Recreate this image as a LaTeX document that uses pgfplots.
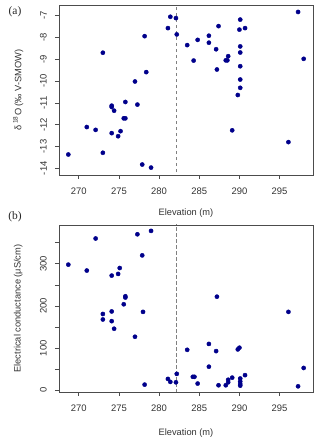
\documentclass[border=0pt]{standalone}
\usepackage{pgfplots}
\pgfplotsset{compat=1.18}
\usepackage{fontspec}
\setmainfont{Liberation Sans}
\newfontfamily\serifpanel{Liberation Serif}
\definecolor{pt}{HTML}{00008B}
\definecolor{ax}{gray}{0.3}

\pgfplotsset{rstyle/.style={
  scale only axis, width=254bp,
  axis line style={ax, line width=0.6bp},
  tick align=outside, tick pos=left,
  major tick length=4bp,
  every tick/.style={ax, line width=0.6bp},
  tick label style={font=\fontsize{9.5}{10}\selectfont, text=black!80},
  label style={font=\fontsize{9.3}{10}\selectfont, text=black!80},
  xmin=267.54, xmax=299.16,
  xtick={270,275,280,285,290,295},
  xticklabels={270,275,280,285,290,295},
  xticklabel style={anchor=north, inner sep=0pt, yshift=-9bp},
  yticklabel style={xshift=-8bp, rotate=90, anchor=south, inner sep=0pt},
  xlabel={Elevation (m)},
  clip=true,
}}

\begin{document}
\begin{tikzpicture}
\useasboundingbox (0,0) rectangle (320bp,446bp);

\begin{axis}[rstyle, at={(59bp,271bp)}, anchor=south west, height=170bp,
  ymin=-14.31, ymax=-6.51,
  ytick={-14,-13,-12,-11,-10,-9,-8,-7},
  yticklabels={-14,-13,-12,-11,-10,-9,-8,-7},
  xlabel style={at={(axis description cs:0.5,-0.227)}, anchor=center},
  ylabel={δ\,\textsuperscript{18}O (‰ V-SMOW)},
  ylabel style={at={(axis description cs:-0.161,0.5)}, anchor=center},
]
\addplot[gray, line width=0.6bp, dash pattern=on 3.5bp off 2.5bp] coordinates {(282.1,-15) (282.1,-6)};
\addplot[only marks, mark=*, mark size=2.1bp, mark options={fill=pt, draw=pt}] table {
x y
268.7 -13.37
271.0 -12.11
272.1 -12.24
273.0 -8.70
273.0 -13.29
274.1 -11.13
274.1 -11.19
274.4 -11.36
274.1 -12.39
274.9 -12.53
275.2 -12.30
275.6 -11.71
275.8 -11.71
275.8 -10.96
277.0 -10.02
277.3 -11.08
277.9 -13.83
278.2 -7.94
278.4 -9.59
279.0 -13.97
281.1 -7.57
281.4 -7.05
282.1 -7.11
282.2 -7.86
283.5 -8.35
284.3 -9.06
284.8 -8.11
286.2 -7.92
286.2 -8.24
287.1 -8.54
287.2 -9.47
287.4 -7.48
288.3 -9.05
288.5 -9.05
288.6 -8.86
289.1 -12.26
289.8 -10.64
290.0 -7.64
290.1 -7.18
290.1 -8.41
290.1 -8.69
290.1 -9.32
290.1 -9.93
290.1 -10.31
290.7 -7.57
296.1 -12.80
297.3 -6.83
298.0 -8.98
};
\end{axis}

\begin{axis}[rstyle, at={(59bp,54bp)}, anchor=south west, height=167bp,
  ymin=-4, ymax=392,
  ytick={0,50,100,150,200,250,300,350},
  yticklabels={0,,100,,200,,300,},
  xlabel style={at={(axis description cs:0.5,-0.246)}, anchor=center},
  ylabel={Electrical conductance (μS/cm)},
  ylabel style={at={(axis description cs:-0.161,0.5)}, anchor=center},
]
\addplot[gray, line width=0.6bp, dash pattern=on 3.5bp off 2.5bp] coordinates {(282.1,-20) (282.1,400)};
\addplot[only marks, mark=*, mark size=2.1bp, mark options={fill=pt, draw=pt}] table {
x y
268.7 298
271.0 284
272.1 360
273.0 181
273.0 168
274.1 272
274.1 187
274.1 164
274.4 146
274.9 276
275.1 290
275.6 204
275.8 223
275.8 220
277.0 127
277.3 370
277.9 320
278.0 186
278.2 13.5
279.0 378
281.1 27
281.4 20
282.1 19
282.2 39
283.5 96
284.2 32
284.4 32
284.8 16
286.2 110
286.2 56
287.1 93
287.2 222
287.4 12
288.3 12
288.6 19
288.6 25
289.1 30
289.8 97
290.0 101
290.1 28
290.1 21
290.1 15
290.1 11
290.7 36
296.1 186
297.3 9.5
298.0 53
};
\end{axis}

\node[font=\serifpanel\fontsize{11.5}{12}\selectfont, text=black!85] at (15bp,434bp) {(a)};
\node[font=\serifpanel\fontsize{11.5}{12}\selectfont, text=black!85] at (15bp,229bp) {(b)};
\end{tikzpicture}
\end{document}
